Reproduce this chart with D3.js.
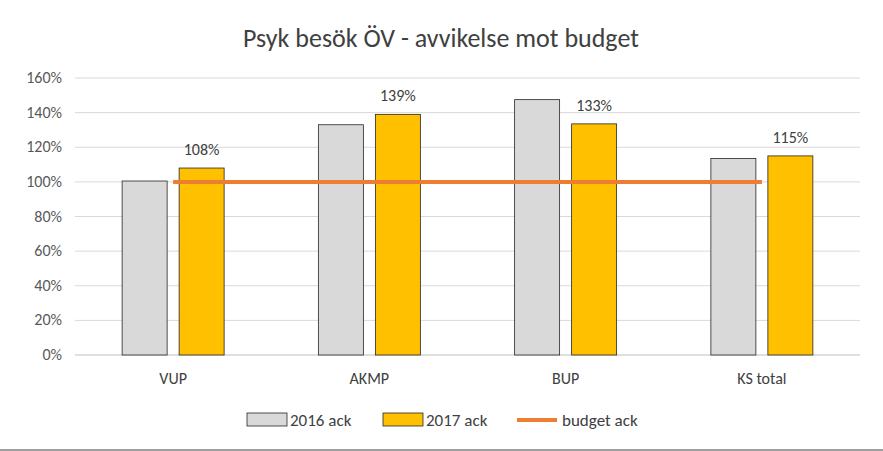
<!DOCTYPE html>
<html><head><meta charset="utf-8">
<script src="https://cdn.jsdelivr.net/npm/d3@7"></script>
<style>body{margin:0;background:#fff;font-family:Calibri,Carlito,Lato,sans-serif}</style>
</head><body><svg id="c" width="883" height="451"></svg>
<script>
const categories=["VUP","AKMP","BUP","KS total"];
const series2016=[1.005,1.33,1.475,1.135];
const series2017=[1.08,1.39,1.335,1.15];
const budget=[1,1,1,1];
const labels2017=["108%","139%","133%","115%"];
const yTicks=[0,0.2,0.4,0.6,0.8,1.0,1.2,1.4,1.6];

const svg=d3.select("#c");
const m={l:75,r:860,t:78,b:355};
const x=d3.scaleBand().domain(categories).range([m.l,m.r]);
const y=d3.scaleLinear().domain([0,1.6]).range([m.b,m.t]);
svg.append("text").attr("x",441).attr("y",47).attr("text-anchor","middle").attr("font-size",26).attr("fill","#404040").text("Psyk besök ÖV - avvikelse mot budget");
svg.append("g").selectAll("line").data(yTicks).join("line").attr("x1",m.l).attr("x2",m.r).attr("y1",d=>y(d)).attr("y2",d=>y(d)).attr("stroke",d=>d===0?"#bfbfbf":"#d9d9d9");
svg.append("g").selectAll("text").data(yTicks).join("text").attr("x",62).attr("y",d=>y(d)+5).attr("text-anchor","end").attr("font-size",16).attr("fill","#595959").text(d=>d3.format(".0%")(d));
svg.append("g").selectAll("text").data(categories).join("text").attr("x",d=>x(d)+x.bandwidth()/2).attr("y",384).attr("text-anchor","middle").attr("font-size",16).attr("fill","#404040").text(d=>d);
const bw=45,gap=12;
svg.append("g").selectAll("rect").data(categories).join("rect").attr("x",d=>x(d)+x.bandwidth()/2-gap/2-bw).attr("width",bw).attr("y",(d,i)=>y(series2016[i])).attr("height",(d,i)=>m.b-y(series2016[i])).attr("fill","#d9d9d9").attr("stroke","#262626").attr("stroke-width",0.8);
svg.append("g").selectAll("rect").data(categories).join("rect").attr("x",d=>x(d)+x.bandwidth()/2+gap/2).attr("width",bw).attr("y",(d,i)=>y(series2017[i])).attr("height",(d,i)=>m.b-y(series2017[i])).attr("fill","#ffc000").attr("stroke","#262626").attr("stroke-width",0.8);
svg.append("g").selectAll("text").data(categories).join("text").attr("x",d=>x(d)+x.bandwidth()/2+gap/2+bw/2).attr("y",(d,i)=>y(series2017[i])-13).attr("text-anchor","middle").attr("font-size",16).attr("fill","#404040").text((d,i)=>labels2017[i]);
const line=d3.line().x((d,i)=>x(categories[i])+x.bandwidth()/2).y(d=>y(d));
svg.append("path").datum(budget).attr("d",line).attr("fill","none").attr("stroke","#ed7d31").attr("stroke-width",4);
const lg=svg.append("g").attr("font-size",17).attr("fill","#404040");
lg.append("rect").attr("x",247).attr("y",413).attr("width",40).attr("height",13).attr("fill","#d9d9d9").attr("stroke","#262626").attr("stroke-width",0.8);
lg.append("text").attr("x",290).attr("y",426).text("2016 ack");
lg.append("rect").attr("x",383).attr("y",413).attr("width",40).attr("height",13).attr("fill","#ffc000").attr("stroke","#262626").attr("stroke-width",0.8);
lg.append("text").attr("x",426).attr("y",426).text("2017 ack");
lg.append("line").attr("x1",517).attr("x2",557).attr("y1",420).attr("y2",420).attr("stroke","#ed7d31").attr("stroke-width",4);
lg.append("text").attr("x",562).attr("y",426).text("budget ack");
svg.append("line").attr("x1",0).attr("x2",883).attr("y1",450).attr("y2",450).attr("stroke","#404040");
</script></body></html>
